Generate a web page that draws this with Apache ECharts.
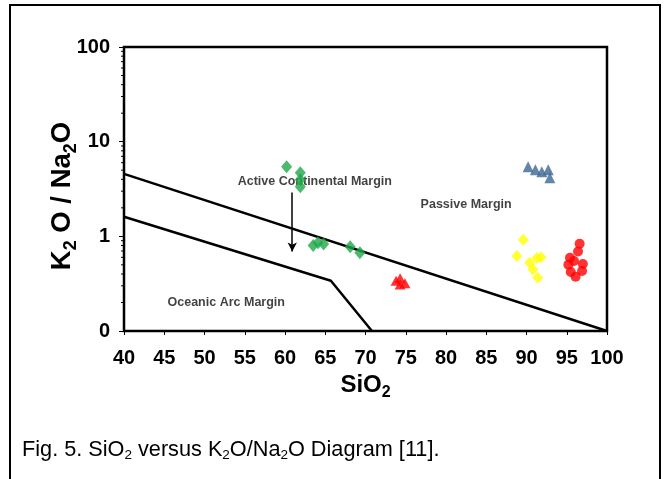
<!DOCTYPE html>
<html>
<head>
<meta charset="utf-8">
<script src="https://cdn.jsdelivr.net/npm/echarts@6/dist/echarts.min.js"></script>
<style>
  html, body { margin: 0; padding: 0; background: #fff; }
  #chart { width: 670px; height: 479px; }
</style>
</head>
<body>
<div id="chart"></div>
<script>
// ---- data ----
const xMin = 40, xMax = 100, xInterval = 5;
const yTickValues = [0.1, 1, 10, 100];
const yTickLabels = ['0', '1', '10', '100'];
const yMinorTicks = [0.2, 0.3, 0.4, 0.5, 0.6, 0.7, 0.8, 0.9, 2, 3, 4, 5, 6, 7, 8, 9, 20, 30, 40, 50, 60, 70, 80, 90];

const upperX = [40, 100];
const upperY = [4.57, 0.1];
const lowerX = [40, 65.7, 70.8];
const lowerY = [1.61, 0.34, 0.1];

const arrowX = 60.9;
const arrowFromY = 2.9;
const arrowToY = 0.69;

const regionLabels = ['Active Continental Margin', 'Passive Margin', 'Oceanic Arc Margin'];
const regionLabelX = [63.7, 82.5, 52.7];
const regionLabelY = [3.77, 2.15, 0.2];

const greenSiO2 = [60.2, 61.9, 61.9, 61.9, 63.5, 64.1, 64.8, 68.1, 69.3];
const greenRatio = [5.42, 4.69, 3.96, 3.34, 0.80, 0.855, 0.83, 0.776, 0.67];
const blueSiO2 = [90.2, 91.1, 91.9, 92.7, 92.9];
const blueRatio = [5.42, 5.04, 4.8, 5.04, 4.15];
const yellowSiO2 = [89.6, 88.8, 90.4, 91.3, 91.8, 90.8, 91.4];
const yellowRatio = [0.92, 0.62, 0.527, 0.59, 0.60, 0.445, 0.366];
const redSiO2 = [96.6, 96.4, 95.4, 95.2, 95.9, 95.5, 96.1, 96.9, 97.0];
const redRatio = [0.835, 0.69, 0.595, 0.50, 0.55, 0.42, 0.375, 0.43, 0.51];
const redTriSiO2 = [73.8, 74.3, 74.9, 74.3];
const redTriRatio = [0.34, 0.36, 0.32, 0.31];

// ---- helpers ----
const zip = (xs, ys) => xs.map((x, i) => [x, ys[i]]);
const FONT = '"Liberation Sans", Arial, sans-serif';

const chart = echarts.init(document.getElementById('chart'), null, { renderer: 'canvas' });

const option = {
  animation: false,
  backgroundColor: '#fff',
  title: {
    left: 22, top: 438, padding: 0,
    text: '{b|Fig. 5. SiO}{s|2}{b| versus K}{s|2}{b|O/Na}{s|2}{b|O Diagram [11].}',
    textStyle: {
      rich: {
        b: { fontFamily: FONT, fontSize: 21.7, fontWeight: 'normal', color: '#000', lineHeight: 24, verticalAlign: 'middle' },
        s: { fontFamily: FONT, fontSize: 13.5, fontWeight: 'normal', color: '#000', lineHeight: 13, verticalAlign: 'bottom' }
      }
    }
  },
  graphic: [{
    type: 'rect', silent: true,
    shape: { x: 10, y: 5, width: 650, height: 500 },
    style: { fill: 'none', stroke: '#000', lineWidth: 2 }
  }],
  grid: {
    left: 124, right: 63, top: 47, bottom: 148,
    show: true, borderColor: '#000', borderWidth: 2.5, backgroundColor: 'transparent'
  },
  xAxis: {
    type: 'value', min: xMin, max: xMax, interval: xInterval,
    name: '{b|SiO}{s|2}',
    nameLocation: 'middle', nameGap: 38, nameMoveOverlap: false,
    nameTextStyle: {
      rich: {
        b: { fontFamily: FONT, fontSize: 24, fontWeight: 'bold', color: '#000', lineHeight: 32, verticalAlign: 'middle' },
        s: { fontFamily: FONT, fontSize: 16, fontWeight: 'bold', color: '#000', lineHeight: 16, verticalAlign: 'bottom' }
      }
    },
    axisLine: { show: true, onZero: false, lineStyle: { color: '#000', width: 2 } },
    axisTick: { show: true, length: 4, lineStyle: { color: '#000', width: 1 } },
    axisLabel: { color: '#000', fontFamily: FONT, fontSize: 20, fontWeight: 'bold', margin: 17 },
    splitLine: { show: false }
  },
  yAxis: {
    type: 'log', logBase: 10, min: 0.1, max: 100,
    name: '{b|K}{s|2}{b| O / Na}{s|2}{b|O}',
    nameLocation: 'middle', nameRotate: 90, nameGap: 44, nameMoveOverlap: false,
    nameTextStyle: {
      padding: [0, 14, 0, 0],
      rich: {
        b: { fontFamily: FONT, fontSize: 27.5, fontWeight: 'bold', color: '#000', lineHeight: 35, verticalAlign: 'middle' },
        s: { fontFamily: FONT, fontSize: 18, fontWeight: 'bold', color: '#000', lineHeight: 18, verticalAlign: 'bottom' }
      }
    },
    axisLine: { show: true, lineStyle: { color: '#000', width: 2 } },
    axisTick: { show: true, length: 5, lineStyle: { color: '#000', width: 1 } },
    axisLabel: {
      color: '#000', fontFamily: FONT, fontSize: 20, fontWeight: 'bold', margin: 14,
      formatter: function (v) {
        let best = 0;
        yTickValues.forEach((t, i) => { if (Math.abs(Math.log10(v) - Math.log10(t)) < Math.abs(Math.log10(v) - Math.log10(yTickValues[best]))) best = i; });
        return yTickLabels[best];
      }
    },
    splitLine: { show: false }
  },
  series: [
    {
      type: 'custom', silent: true, clip: false, z: 3,
      data: yMinorTicks.map(v => [xMin, v]),
      renderItem: function (params, api) {
        const p = api.coord([api.value(0), api.value(1)]);
        return { type: 'line', shape: { x1: p[0] - 3, y1: p[1], x2: p[0], y2: p[1] }, style: { stroke: '#000', lineWidth: 1 } };
      }
    },
    {
      type: 'line', data: zip(upperX, upperY), symbol: 'none', clip: false, silent: true, z: 2,
      lineStyle: { color: '#000', width: 2.5 }
    },
    {
      type: 'line', data: zip(lowerX, lowerY), symbol: 'none', clip: false, silent: true, z: 2,
      lineStyle: { color: '#000', width: 2.5 }
    },
    {
      type: 'scatter', data: [], silent: true, z: 2,
      markLine: {
        silent: true, symbol: ['none', 'arrow'], symbolSize: [7, 9], animation: false,
        label: { show: false },
        lineStyle: { color: '#000', width: 1.5, type: 'solid' },
        data: [[{ coord: [arrowX, arrowFromY] }, { coord: [arrowX, arrowToY] }]]
      }
    },
    {
      type: 'scatter', silent: true, z: 3,
      symbolSize: 1, itemStyle: { color: 'transparent' },
      data: regionLabels.map((t, i) => [regionLabelX[i], regionLabelY[i], t]),
      label: {
        show: true, position: 'inside',
        formatter: p => p.data[2],
        fontFamily: FONT, fontSize: 12.5, fontWeight: 'bold', color: '#111'
      }
    },
    {
      type: 'scatter', z: 5, data: zip(greenSiO2, greenRatio),
      symbol: 'diamond', symbolSize: [11, 13], itemStyle: { color: '#1fa84a' }
    },
    {
      type: 'scatter', z: 5, data: zip(blueSiO2, blueRatio),
      symbol: 'triangle', symbolSize: [11, 11], itemStyle: { color: '#3c6694' }
    },
    {
      type: 'scatter', z: 5, data: zip(yellowSiO2, yellowRatio),
      symbol: 'diamond', symbolSize: [11, 12], itemStyle: { color: '#ffff00' }
    },
    {
      type: 'scatter', z: 5, data: zip(redSiO2, redRatio),
      symbol: 'circle', symbolSize: 10, itemStyle: { color: '#ff0000' }
    },
    {
      type: 'scatter', z: 5, data: zip(redTriSiO2, redTriRatio),
      symbol: 'triangle', symbolSize: [11, 10], itemStyle: { color: '#ff0000' }
    }
  ]
};

chart.setOption(option);
</script>
</body>
</html>
